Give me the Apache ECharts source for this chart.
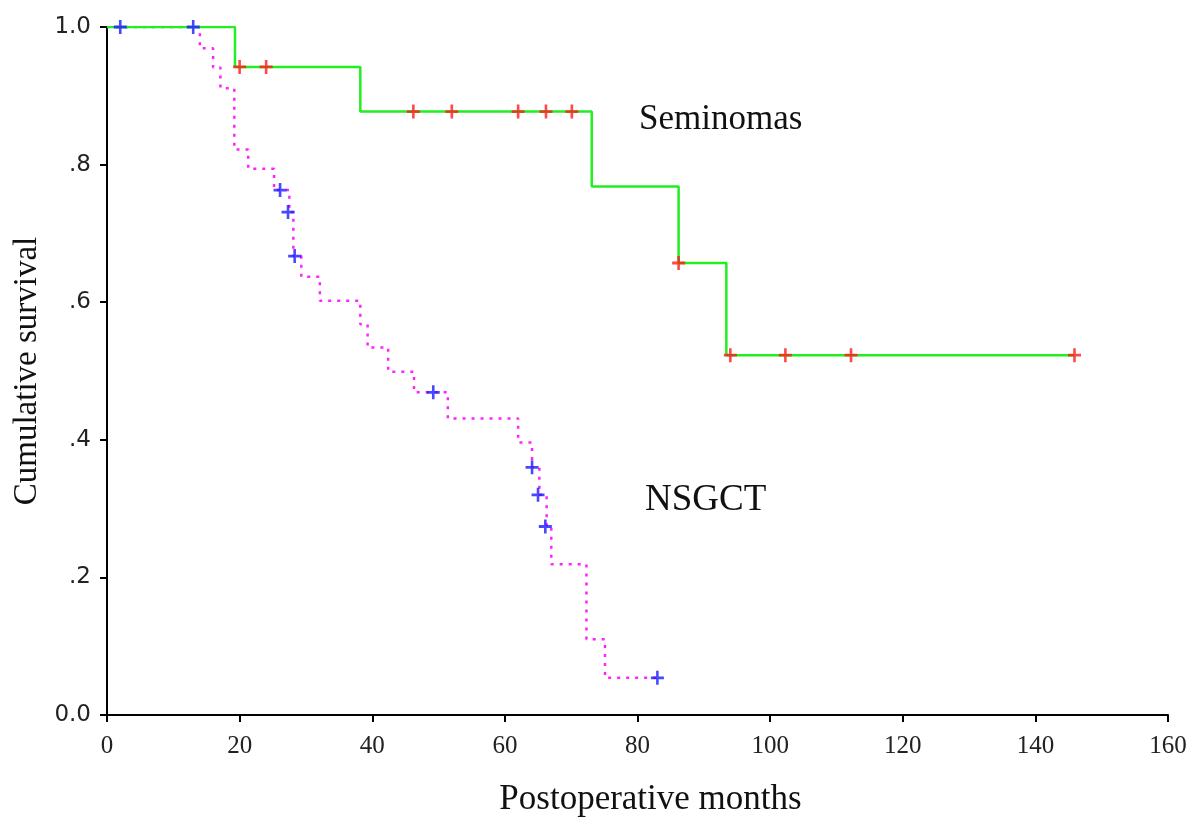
<!DOCTYPE html>
<html><head><meta charset="utf-8">
<script src="https://cdn.jsdelivr.net/npm/echarts@6/dist/echarts.min.js"></script>
<style>html,body{margin:0;padding:0;background:#fff}#c{width:1200px;height:833px}</style>
</head><body><div id="c"></div>
<script>
// Kaplan-Meier steps [months, cumulative survival]
const seminomaSteps = [[0,1.0],[19.3,0.942],[38.2,0.877],[73.1,0.768],[86.2,0.657],[93.4,0.523],[145.9,0.523]];
const seminomaCensored = [[20,0.942],[24,0.942],[46.2,0.877],[52,0.877],[62,0.877],[66.2,0.877],[70.1,0.877],[86.2,0.657],[94.0,0.523],[102.3,0.523],[112.2,0.523],[145.9,0.523]];
const nsgctSteps = [[0,1.0],[14.0,0.969],[16.0,0.941],[17.1,0.911],[19.2,0.822],[21.3,0.794],[25.2,0.763],[27.5,0.731],[28.1,0.667],[29.3,0.637],[32.1,0.602],[38.2,0.568],[39.3,0.534],[42.4,0.499],[46.3,0.469],[51.4,0.431],[62.0,0.396],[64.1,0.360],[65.2,0.320],[66.3,0.274],[67.0,0.219],[72.3,0.110],[75.1,0.054],[83.0,0.054]];
const nsgctCensored = [[2,1.0],[13,1.0],[26.1,0.763],[27.3,0.731],[28.3,0.667],[49.2,0.469],[64.1,0.360],[65.0,0.320],[66.1,0.274],[83.0,0.054]];
const xTicks = [0,20,40,60,80,100,120,140,160];
const yTickLabels = {0:'0.0',0.2:'.2',0.4:'.4',0.6:'.6',0.8:'.8',1:'1.0'};
const groupLabels = ['Seminomas','NSGCT'];

const plus = 'path://M4,0 L6,0 L6,4 L10,4 L10,6 L6,6 L6,10 L4,10 L4,6 L0,6 L0,4 L4,4 Z';
const chart = echarts.init(document.getElementById('c'), null, {renderer:'canvas'});
chart.setOption({
  backgroundColor:'#fff',
  animation:false,
  grid:{left:107,right:32,top:27,bottom:118},
  xAxis:{type:'value',min:xTicks[0],max:xTicks[xTicks.length-1],interval:20,
    name:'Postoperative months',nameLocation:'middle',nameGap:67,
    nameTextStyle:{fontFamily:'Liberation Serif',fontSize:35,color:'#111',padding:[0,0,0,26]},
    axisLine:{onZero:false,lineStyle:{color:'#000',width:2}},
    axisTick:{show:true,length:7,lineStyle:{color:'#000',width:2}},
    axisLabel:{fontFamily:'Liberation Serif',fontSize:25,color:'#222',margin:19},
    splitLine:{show:false}},
  yAxis:{type:'value',min:0,max:1,interval:0.2,
    name:'Cumulative survival',nameLocation:'middle',nameGap:56,
    nameTextStyle:{fontFamily:'Liberation Serif',fontSize:33,color:'#111'},
    axisLine:{show:true,lineStyle:{color:'#000',width:2}},
    axisTick:{show:true,length:7,lineStyle:{color:'#000',width:2}},
    axisLabel:{fontFamily:'DejaVu Sans',fontSize:23,color:'#222',margin:16,
      formatter:v=>yTickLabels[Math.round(v*10)/10]},
    splitLine:{show:false}},
  series:[
    {type:'line',step:'end',data:seminomaSteps,showSymbol:false,z:3,
      lineStyle:{color:'#22ee22',width:2.5}},
    {type:'line',step:'end',data:nsgctSteps,showSymbol:false,z:2,
      lineStyle:{color:'#ff22ff',width:2.5,type:[3,6]}},
    {type:'scatter',data:seminomaCensored,symbol:plus,symbolSize:[13,14],z:4,
      itemStyle:{color:'#ff1a1a'}},
    {type:'scatter',data:nsgctCensored,symbol:plus,symbolSize:[13,14],z:5,
      itemStyle:{color:'#1a1aff'}}
  ],
  graphic:[
    {type:'text',left:639,top:102,style:{text:groupLabels[0],font:'35px "Liberation Serif"',fill:'#111'}},
    {type:'text',left:645,top:482,style:{text:groupLabels[1],font:'37px "Liberation Serif"',fill:'#111'}}
  ]
});
</script></body></html>
